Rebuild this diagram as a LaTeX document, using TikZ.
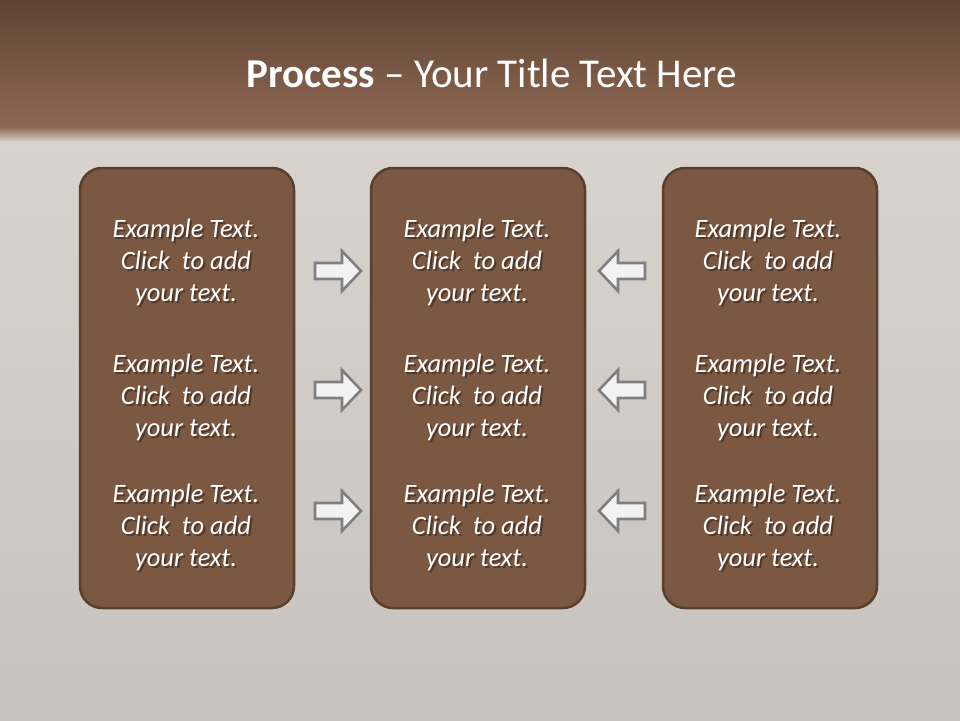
\documentclass[tikz,border=0pt]{standalone}
\usepackage{fontspec}
\setmainfont{Carlito}
\definecolor{panelfill}{HTML}{7A5842}
\definecolor{panelline}{HTML}{5B3F2D}
\definecolor{textshadow}{HTML}{4F3829}
\newcommand\shline[1]{\rlap{\kern2pt\smash{\raisebox{-2.5pt}{\textcolor{textshadow}{#1}}}}#1}
\newcommand\exampletext{\shline{Example Text.}\\\shline{Click~ to add}\\\shline{your text.}}
\begin{document}
\begin{tikzpicture}[x=1pt,y=-1pt,
  panel/.style={draw=panelline,line width=2.5pt,fill=panelfill,rounded corners=22pt},
  bodytext/.style={text=white,font=\fontsize{26.5}{32}\selectfont\itshape,align=center},
  blockarrow/.style={draw=arrowline,fill=arrowfill,line width=2.6pt,line join=miter}]
\definecolor{arrowline}{HTML}{7F7F7F}
\definecolor{arrowfill}{HTML}{F2F2F2}
\definecolor{bandtop}{HTML}{5E4434}
\definecolor{bandbot}{HTML}{8E6852}
\definecolor{greytop}{HTML}{D9D3CD}
\definecolor{greybot}{HTML}{C7C3BF}
\useasboundingbox (0,0) rectangle (960,720);
% background
\shade[top color=greytop,bottom color=greybot] (0,128) rectangle (960,720);
\shade[top color=bandtop,bottom color=bandbot] (0,0) rectangle (960,128);
\shade[top color=bandbot,bottom color=greytop] (0,127) rectangle (960,142);
% title
\node[text=white,font=\fontsize{41}{48}\selectfont,anchor=base] (title) at (492,87) {\textbf{Process} – Your Title Text Here};
% panels
\foreach \n/\xa in {left/80,mid/371,right/663}{
  \draw[panel] (\xa,168) rectangle ++(214,440);
}
% texts
\foreach \n/\xc in {L/186,M/477,R/768}{
  \foreach \r/\yc in {1/262,2/397,3/527}{
    \node[bodytext] (t\n\r) at (\xc,\yc) {\exampletext};
  }
}
% arrows
\foreach \yc in {271,390,511}{
  \draw[blockarrow] (315,\yc-8) -- (342,\yc-8) -- (342,\yc-20) -- (361,\yc) -- (342,\yc+20) -- (342,\yc+8) -- (315,\yc+8) -- cycle;
  \draw[blockarrow] (645,\yc-8) -- (618,\yc-8) -- (618,\yc-20) -- (599,\yc) -- (618,\yc+20) -- (618,\yc+8) -- (645,\yc+8) -- cycle;
}
\end{tikzpicture}
\end{document}
